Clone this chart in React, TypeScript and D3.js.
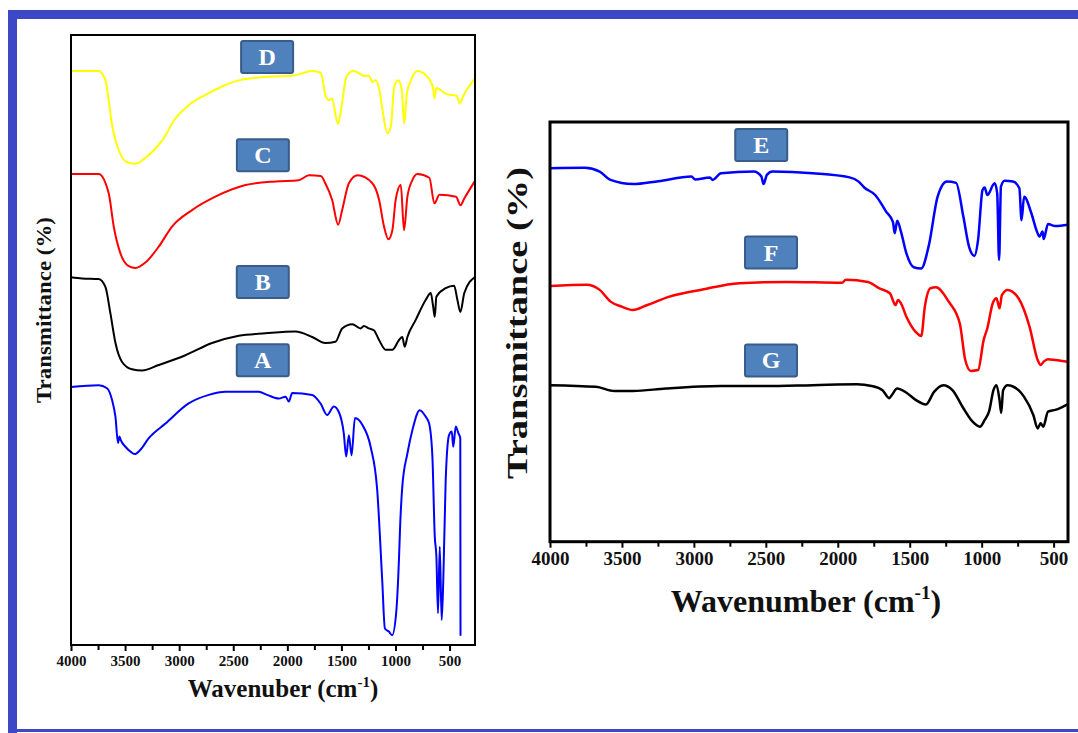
import { useEffect, useRef } from 'react';
import * as d3 from 'd3';

// left panel spectra (wavenumber, transmittance a.u.)
const wnD = [4000, 3745, 3682, 3618, 3554, 3475, 3401, 3331, 3235, 3142, 3044, 2917, 2757, 2598, 2439, 2282, 2120, 1961, 1866, 1770, 1690, 1644, 1611, 1588, 1531, 1500, 1451, 1388, 1324, 1292, 1246, 1213, 1181, 1149, 1116, 1076, 1043, 1012, 974, 942, 920, 895, 863, 798, 719, 655, 639, 623, 527, 432, 407, 368, 268];
const tD = [94.1, 94.1, 92.6, 85.0, 80.9, 79.1, 78.9, 79.6, 81.1, 83.1, 86.1, 88.4, 90.2, 91.6, 92.6, 93.0, 93.2, 93.3, 93.7, 94.1, 93.8, 89.9, 89.3, 89.6, 85.4, 88.2, 93.3, 94.1, 93.6, 93.3, 93.3, 92.3, 92.6, 91.0, 87.2, 83.9, 85.0, 91.5, 92.6, 91.0, 85.5, 90.4, 92.3, 94.1, 93.4, 91.5, 89.6, 91.3, 90.3, 90.0, 88.8, 90.2, 92.8];

const wnC = [4000, 3745, 3651, 3605, 3543, 3466, 3404, 3312, 3189, 3066, 2881, 2665, 2387, 2109, 1894, 1800, 1690, 1649, 1586, 1530, 1493, 1431, 1350, 1214, 1152, 1106, 1066, 1029, 998, 951, 921, 890, 844, 798, 687, 640, 594, 440, 400, 364, 268];
const tC = [77.2, 77.2, 74.0, 68.6, 64.2, 62.1, 61.8, 62.7, 65.3, 68.6, 71.3, 73.5, 75.4, 76.0, 76.2, 77.0, 76.9, 75.7, 73.0, 68.9, 71.3, 75.7, 77.0, 75.7, 73.0, 68.6, 66.5, 68.0, 73.0, 75.4, 68.0, 73.5, 76.2, 77.2, 76.6, 72.4, 73.8, 73.5, 72.1, 73.2, 76.0];

const wnB = [4000, 3898, 3744, 3682, 3636, 3589, 3528, 3436, 3343, 3189, 2942, 2696, 2449, 2202, 1925, 1770, 1649, 1555, 1493, 1400, 1323, 1292, 1246, 1200, 1152, 1091, 1029, 967, 937, 915, 890, 813, 720, 674, 652, 637, 622, 536, 458, 428, 400, 364, 268];
const tB = [60.3, 60.1, 60.0, 58.7, 54.4, 49.5, 46.4, 45.2, 45.0, 45.9, 47.5, 49.5, 50.7, 51.1, 51.4, 50.5, 49.5, 49.7, 51.9, 52.6, 51.9, 52.3, 51.9, 51.6, 50.0, 48.4, 48.4, 50.0, 50.5, 48.9, 50.5, 53.3, 56.6, 57.7, 55.5, 53.8, 57.1, 58.5, 58.9, 56.6, 54.6, 57.7, 60.3];

const wnA = [4000, 3744, 3667, 3621, 3589, 3565, 3552, 3540, 3497, 3450, 3411, 3358, 3281, 3127, 2912, 2726, 2572, 2264, 2187, 2079, 2016, 1986, 1955, 1770, 1693, 1632, 1570, 1524, 1478, 1456, 1431, 1406, 1375, 1307, 1230, 1169, 1123, 1098, 1061, 1031, 994, 967, 958, 937, 890, 844, 776, 720, 689, 659, 637, 622, 607, 591, 573, 558, 536, 505, 480, 466, 443, 418, 401, 399];
const tA = [42.3, 42.6, 42.1, 40.2, 37.4, 33.1, 34.2, 33.6, 32.5, 31.7, 31.3, 32.0, 33.9, 36.3, 39.6, 41.0, 41.5, 41.5, 41.0, 40.4, 40.7, 39.9, 41.3, 41.0, 39.6, 37.7, 39.1, 38.2, 34.7, 30.9, 34.4, 31.1, 37.2, 36.1, 32.5, 25.4, 10.7, 2.7, 2.2, 1.6, 5.2, 14.5, 19.1, 26.0, 31.4, 35.2, 38.5, 37.4, 36.3, 30.9, 17.8, 14.5, 5.2, 16.1, 4.1, 10.7, 27.0, 34.4, 35.0, 32.5, 35.8, 34.7, 33.9, 1.5];

// right panel spectra
const wnE = [4000, 3757, 3655, 3579, 3425, 3247, 3017, 2991, 2889, 2869, 2812, 2583, 2531, 2516, 2493, 2455, 2174, 1918, 1855, 1816, 1740, 1663, 1617, 1604, 1587, 1561, 1523, 1472, 1420, 1369, 1306, 1242, 1178, 1127, 1088, 1050, 1025, 994, 979, 961, 910, 892, 879, 866, 841, 782, 738, 723, 705, 654, 616, 598, 577, 569, 539, 488, 400];
const tE = [89.0, 89.1, 88.2, 86.2, 85.2, 85.9, 87.0, 86.3, 86.8, 86.2, 87.8, 88.2, 87.0, 85.2, 87.4, 88.2, 87.8, 86.8, 85.8, 84.4, 82.6, 78.6, 76.2, 73.5, 76.5, 73.9, 68.7, 65.4, 65.1, 70.3, 82.2, 85.8, 85.5, 77.4, 70.3, 68.1, 71.9, 83.8, 84.4, 82.6, 85.4, 83.0, 67.1, 84.6, 86.0, 85.8, 84.2, 76.6, 82.2, 78.2, 73.9, 72.7, 73.9, 72.1, 75.7, 75.2, 75.5];

const wnF = [4000, 3745, 3655, 3579, 3502, 3425, 3323, 3170, 2940, 2685, 2353, 1970, 1944, 1791, 1714, 1638, 1599, 1581, 1561, 1523, 1459, 1420, 1395, 1356, 1318, 1229, 1152, 1114, 1076, 1025, 986, 961, 923, 897, 876, 859, 820, 744, 667, 611, 590, 569, 539, 488, 400];
const tF = [60.9, 61.2, 60.0, 57.2, 56.0, 55.2, 56.4, 58.4, 60.1, 61.6, 61.9, 61.7, 62.4, 61.9, 60.4, 59.2, 56.4, 57.6, 56.8, 53.6, 50.0, 49.0, 56.0, 60.4, 60.6, 57.2, 52.0, 43.3, 40.7, 40.9, 48.1, 50.8, 56.8, 58.0, 55.6, 58.8, 60.0, 58.0, 51.2, 43.3, 42.1, 42.9, 43.5, 43.3, 42.9];

const wnG = [4000, 3681, 3553, 3425, 3196, 2812, 2506, 2174, 1867, 1765, 1689, 1643, 1625, 1587, 1523, 1459, 1387, 1331, 1267, 1203, 1127, 1063, 1012, 979, 948, 918, 897, 876, 864, 851, 820, 744, 705, 641, 611, 590, 572, 539, 488, 400];
const tG = [37.3, 36.9, 35.9, 35.9, 36.5, 37.1, 37.1, 37.3, 37.5, 37.1, 36.1, 34.2, 34.9, 36.5, 35.5, 33.8, 32.7, 35.7, 37.3, 36.1, 31.8, 28.6, 27.4, 29.0, 31.1, 36.1, 37.3, 33.8, 30.7, 36.1, 37.3, 36.1, 34.5, 30.2, 27.0, 28.2, 27.4, 31.0, 31.4, 32.8];

const majorTicks = [4000, 3500, 3000, 2500, 2000, 1500, 1000, 500];
const minorTicks = [3750, 3250, 2750, 2250, 1750, 1250, 750];

const leftNames = ['D', 'C', 'B', 'A'];
const leftLabelWn = [2187, 2226, 2227, 2227];
const leftLabelT = [96.4, 80.3, 59.5, 46.7];
const rightNames = ['E', 'F', 'G'];
const rightLabelWn = [2532, 2464, 2464];
const rightLabelT = [94.5, 68.9, 43.2];

const FONT = '"Times New Roman", "Liberation Serif", serif';

function drawPanel(root, p) {
  const x = d3.scaleLinear().domain(p.xDomain).range([p.left, p.right]);
  const y = d3.scaleLinear().domain([0, 100]).range([p.bottom, p.top]);
  const g = root.append('g');

  const line = d3
    .line()
    .x((d) => x(d[0]))
    .y((d) => y(d[1]))
    .curve(d3.curveMonotoneX);

  p.series.forEach((s) => {
    g.append('path')
      .datum(d3.zip(s.wn, s.t))
      .attr('d', line)
      .attr('fill', 'none')
      .attr('stroke', s.color)
      .attr('stroke-width', p.lineWidth)
      .attr('stroke-linejoin', 'round');
  });

  // frame
  g.append('rect')
    .attr('x', p.left)
    .attr('y', p.top)
    .attr('width', p.right - p.left)
    .attr('height', p.bottom - p.top)
    .attr('fill', 'none')
    .attr('stroke', '#000')
    .attr('stroke-width', p.frameWidth);

  // major ticks + labels
  const ax = g.append('g').attr('transform', `translate(0,${p.bottom})`);
  ax.call(d3.axisBottom(x).tickValues(majorTicks).tickSize(6).tickPadding(4).tickFormat(d3.format('d')));
  // minor ticks
  const axm = g.append('g').attr('transform', `translate(0,${p.bottom})`);
  axm.call(d3.axisBottom(x).tickValues(minorTicks).tickSize(5).tickFormat(() => ''));

  [ax, axm].forEach((a) => {
    a.selectAll('.domain').remove();
    a.selectAll('line').attr('stroke', '#000').attr('stroke-width', 2);
  });
  ax.selectAll('text')
    .attr('font-family', FONT)
    .attr('font-weight', 'bold')
    .attr('font-size', p.tickFont)
    .attr('fill', '#111');

  // x title
  const xt = g
    .append('text')
    .attr('x', (p.left + p.right) / 2 + p.xTitleShift)
    .attr('y', p.xTitleY)
    .attr('text-anchor', 'middle')
    .attr('font-family', FONT)
    .attr('font-weight', 'bold')
    .attr('font-size', p.titleFont)
    .attr('fill', '#111');
  xt.append('tspan').text(p.xTitle + ' (cm');
  xt.append('tspan').attr('dy', -p.titleFont * 0.4).attr('font-size', p.titleFont * 0.6).text('-1');
  xt.append('tspan').attr('dy', p.titleFont * 0.4).text(')');

  // y title
  g.append('text')
    .attr('transform', `translate(${p.yTitleX},${p.yTitleY}) rotate(-90)`)
    .attr('text-anchor', 'middle')
    .attr('dominant-baseline', 'central')
    .attr('font-family', FONT)
    .attr('font-weight', 'bold')
    .attr('font-size', p.yFont)
    .attr('textLength', p.yLen)
    .attr('lengthAdjust', 'spacingAndGlyphs')
    .attr('fill', '#111')
    .text('Transmittance (%)');

  // sample label boxes
  p.names.forEach((name, i) => {
    const cx = x(p.labelWn[i]);
    const cy = y(p.labelT[i]);
    g.append('rect')
      .attr('x', cx - 26)
      .attr('y', cy - 16)
      .attr('width', 52)
      .attr('height', 32)
      .attr('rx', 2)
      .attr('fill', '#4f81bd')
      .attr('stroke', '#385d8a')
      .attr('stroke-width', 2);
    g.append('text')
      .attr('x', cx)
      .attr('y', cy + 8)
      .attr('text-anchor', 'middle')
      .attr('font-family', FONT)
      .attr('font-weight', 'bold')
      .attr('font-size', 24)
      .attr('fill', '#fff')
      .text(name);
  });
}

const FtirChart = () => {
  const ref = useRef(null);

  useEffect(() => {
    const svg = d3.select(ref.current);
    svg.selectAll('*').remove();

    // blue outer frame
    svg.append('rect').attr('x', 8).attr('y', 10).attr('width', 1070).attr('height', 9).attr('fill', '#3d48c6');
    svg.append('rect').attr('x', 8).attr('y', 10).attr('width', 9).attr('height', 723).attr('fill', '#3d48c6');
    svg.append('rect').attr('x', 8).attr('y', 729).attr('width', 1070).attr('height', 3).attr('fill', '#3d48c6');

    drawPanel(svg, {
      left: 71,
      right: 475,
      top: 35,
      bottom: 645,
      xDomain: [4000, 265],
      lineWidth: 2,
      frameWidth: 2,
      tickFont: 15,
      titleFont: 25,
      xTitle: 'Wavenuber',
      xTitleShift: 10,
      xTitleY: 697,
      yTitleX: 43,
      yTitleY: 310,
      yFont: 22,
      yLen: 186,
      names: leftNames,
      labelWn: leftLabelWn,
      labelT: leftLabelT,
      series: [
        { wn: wnD, t: tD, color: '#ffff00' },
        { wn: wnC, t: tC, color: '#ff0000' },
        { wn: wnB, t: tB, color: '#000000' },
        { wn: wnA, t: tA, color: '#0000ff' },
      ],
    });

    drawPanel(svg, {
      left: 550,
      right: 1068,
      top: 122,
      bottom: 541.7,
      xDomain: [4000, 400],
      lineWidth: 2.5,
      frameWidth: 3,
      tickFont: 19,
      titleFont: 32,
      xTitle: 'Wavenumber',
      xTitleShift: -3,
      xTitleY: 612,
      yTitleX: 517,
      yTitleY: 323,
      yFont: 29,
      yLen: 312,
      names: rightNames,
      labelWn: rightLabelWn,
      labelT: rightLabelT,
      series: [
        { wn: wnE, t: tE, color: '#0000ff' },
        { wn: wnF, t: tF, color: '#ff0000' },
        { wn: wnG, t: tG, color: '#000000' },
      ],
    });
  }, [ref]);

  return <svg ref={ref} width={1078} height={733} style={{ position: 'absolute', left: 0, top: 0, background: '#fff' }} />;
};

export default function App() {
  return (
    <div>
      <FtirChart />
    </div>
  );
}
